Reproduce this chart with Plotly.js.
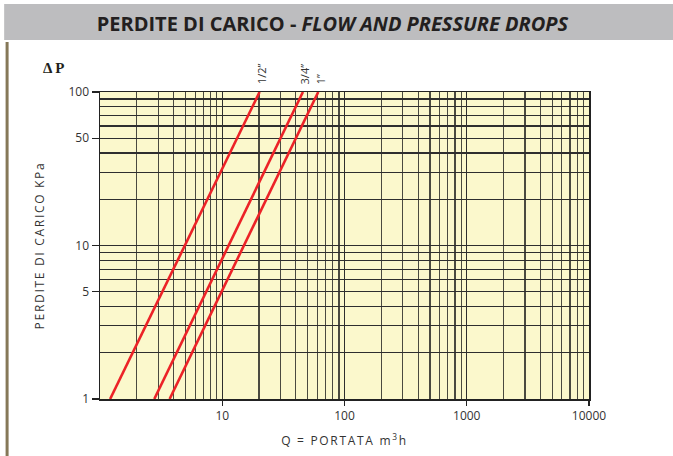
<!DOCTYPE html>
<html><head><meta charset="utf-8">
<script src="https://cdn.plot.ly/plotly-3.0.1.min.js"></script>
<style>
html,body{margin:0;padding:0;background:#fff;}
#chart{width:673px;height:456px;}
.ytitle{letter-spacing:1.7px;}
.xtitle{letter-spacing:1.7px;}
</style></head><body><div id="chart"></div>
<script>
// Series (flow Q in m3/h vs pressure drop in kPa)
const seriesNames = ['1/2\u201D', '3/4\u201D', '1\u201D'];
const flowHalf = [1.21, 20.2];
const dpHalf = [1, 100];
const flowThreeQuarter = [2.78, 45.7];
const dpThreeQuarter = [1, 100];
const flowOne = [3.71, 61];
const dpOne = [1, 100];

// Tick labels
const xTickVals = [10, 100, 1000, 10000];
const xTickText = ['10', '100', '1000', '10000'];
const yTickVals = [1, 5, 10, 50, 100];
const yTickText = ['1', '5', '10', '50', '100'];

const flows = [flowHalf, flowThreeQuarter, flowOne];
const drops = [dpHalf, dpThreeQuarter, dpOne];

// minor log gridlines (2..9 of each decade)
function minorVals(decades) {
  const out = [];
  decades.forEach(d => { for (let k = 2; k <= 9; k++) out.push(k * d); });
  return out;
}
const xMinor = minorVals([1, 10, 100, 1000]);
const yMinor = minorVals([1, 10]);

const lineColor = '#EC2227';
const traces = flows.map((f, i) => ({
  x: f, y: drops[i], type: 'scatter', mode: 'lines', name: seriesNames[i],
  line: {color: lineColor, width: 2.6}, showlegend: false, hoverinfo: 'skip'
}));

const annotations = flows.map((f, i) => ({
  x: Math.log10(f[f.length - 1]), y: Math.log10(drops[i][drops[i].length - 1]),
  xref: 'x', yref: 'y', text: seriesNames[i], showarrow: false,
  textangle: -90, xanchor: 'center', yanchor: 'bottom', xshift: 2, yshift: 6,
  font: {family: 'Open Sans, sans-serif', size: 11, color: '#333'}
}));
annotations.push({
  x: -0.094, y: 1.078, xref: 'paper', yref: 'paper', text: '<b>\u0394 P</b>',
  showarrow: false, xanchor: 'center', yanchor: 'middle',
  font: {family: 'Liberation Serif, serif', size: 15, color: '#231f20'}
});

const gridCol = '#2e2e2e';
const layout = {
  width: 673, height: 456,
  margin: {l: 100, r: 84, t: 92, b: 57},
  paper_bgcolor: '#ffffff', plot_bgcolor: '#FBF8CC',
  title: {
    text: '<b>PERDITE DI CARICO - <i>FLOW AND PRESSURE DROPS</i></b>',
    x: 0.494, xref: 'container', xanchor: 'center',
    y: 0.947, yref: 'container', yanchor: 'middle',
    font: {family: 'Open Sans, sans-serif', size: 20, color: '#231f20'}
  },
  xaxis: {
    type: 'log', range: [0, 4], tickmode: 'array', tickvals: xTickVals, ticktext: xTickText,
    ticks: 'outside', ticklen: 5, tickwidth: 1.2, tickcolor: '#222',
    showline: true, linecolor: '#222', linewidth: 1.5, mirror: true,
    showgrid: true, gridcolor: gridCol, gridwidth: 1.2, zeroline: false,
    minor: {tickmode: 'array', tickvals: xMinor, showgrid: true, gridcolor: '#4a4a40', gridwidth: 1.2, ticks: ''},
    tickfont: {family: 'Open Sans, sans-serif', size: 12, color: '#333'},
    title: {text: 'Q = PORTATA m<sup>3</sup>h', standoff: 13,
      font: {family: 'Open Sans, sans-serif', size: 12, color: '#333'}}
  },
  yaxis: {
    type: 'log', range: [0, 2], tickmode: 'array', tickvals: yTickVals, ticktext: yTickText,
    ticks: 'outside', ticklen: 7, tickwidth: 1.2, tickcolor: '#222',
    showline: true, linecolor: '#222', linewidth: 1.5, mirror: true,
    showgrid: true, gridcolor: gridCol, gridwidth: 1.2, zeroline: false,
    minor: {tickmode: 'array', tickvals: yMinor, showgrid: true, gridcolor: gridCol, gridwidth: 1.2, ticks: ''},
    tickfont: {family: 'Open Sans, sans-serif', size: 12, color: '#333'},
    title: {text: 'PERDITE DI CARICO KPa', standoff: 21,
      font: {family: 'Open Sans, sans-serif', size: 12, color: '#333'}}
  },
  shapes: [
    {type: 'rect', xref: 'paper', yref: 'paper', x0: -0.196, x1: 1.2, y0: 1.169, y1: 1.287,
     fillcolor: '#BDBDBF', line: {width: 0}, layer: 'below'},
    {type: 'line', xref: 'paper', yref: 'paper', x0: -0.190, x1: -0.190, y0: -0.2, y1: 1.163,
     line: {color: '#857858', width: 3}}
  ],
  annotations: annotations
};

Plotly.newPlot('chart', traces, layout, {displayModeBar: false, staticPlot: true});
</script></body></html>
